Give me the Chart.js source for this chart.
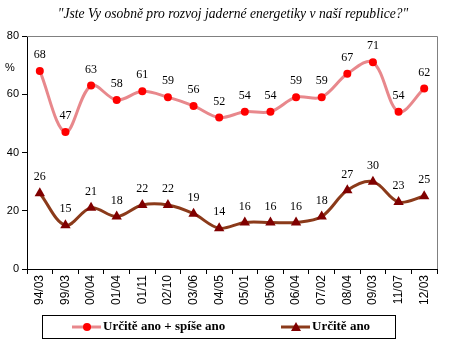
<!DOCTYPE html>
<html><head><meta charset="utf-8">
<script src="https://cdn.jsdelivr.net/npm/chart.js@4"></script>
<style>html,body{margin:0;padding:0;background:#fff}#w{width:449px;height:353px}</style>
</head><body><div id="w"><canvas id="c"></canvas></div>
<script>
const categories = ["94/03","99/03","00/04","01/04","01/11","02/10","03/06","04/05","05/01","05/06","06/04","07/02","08/04","09/03","11/07","12/03"];
const seriesNames = ["Určitě ano + spíše ano","Určitě ano"];
const totalYes = [68,47,63,58,61,59,56,52,54,54,59,59,67,71,54,62];
const definitelyYes = [26,15,21,18,22,22,19,14,16,16,16,18,27,30,23,25];
const yTicks = [0,20,40,60,80];
const title = "\"Jste Vy osobně pro rozvoj jaderné energetiky v naší republice?\"";

const extras = {
  id: 'extras',
  afterDraw(chart) {
    const ctx = chart.ctx, a = chart.chartArea;
    ctx.save();
    ctx.strokeStyle = '#808080'; ctx.lineWidth = 1;
    ctx.beginPath();
    ctx.moveTo(a.left, a.top + 0.5); ctx.lineTo(a.right + 0.5, a.top + 0.5); ctx.lineTo(a.right + 0.5, a.bottom);
    ctx.stroke();
    ctx.fillStyle = '#000';
    ctx.font = 'italic 13.6px "Liberation Serif"';
    ctx.textAlign = 'center'; ctx.textBaseline = 'middle';
    ctx.fillText(title, 233, 14);
    ctx.font = '11px "Liberation Sans"';
    ctx.fillText('%', 10, 68);
    ctx.font = '12px "Liberation Serif"';
    chart.data.datasets.forEach((ds, i) => {
      const meta = chart.getDatasetMeta(i);
      meta.data.forEach((p, j) => {
        ctx.fillText(String(ds.data[j]), p.x, p.y - 16);
      });
    });
    // legend
    const lx = 42, ly = 315, lw = 353, lh = 23;
    ctx.strokeStyle = '#000'; ctx.lineWidth = 1;
    ctx.strokeRect(lx + 0.5, ly + 0.5, lw, lh);
    const items = [{x: 72, ds: chart.data.datasets[0]}, {x: 281, ds: chart.data.datasets[1]}];
    const cy = ly + lh / 2 + 0.5;
    items.forEach(it => {
      ctx.strokeStyle = it.ds.borderColor; ctx.lineWidth = 3;
      ctx.beginPath(); ctx.moveTo(it.x, cy); ctx.lineTo(it.x + 29, cy); ctx.stroke();
      ctx.fillStyle = it.ds.pointBackgroundColor;
      const mx = it.x + 15;
      if (it.ds.pointStyle === 'triangle') {
        ctx.beginPath(); ctx.moveTo(mx, cy - 5); ctx.lineTo(mx + 5, cy + 4); ctx.lineTo(mx - 5, cy + 4); ctx.closePath(); ctx.fill();
      } else {
        ctx.beginPath(); ctx.arc(mx, cy, 4, 0, Math.PI * 2); ctx.fill();
      }
      ctx.fillStyle = '#000';
      ctx.font = 'bold 13px "Liberation Serif"';
      ctx.textAlign = 'left';
      ctx.fillText(it.ds.label, it.x + 31, cy);
    });
    ctx.restore();
  }
};

new Chart(document.getElementById('c'), {
  type: 'line',
  data: {
    labels: categories,
    datasets: [
      {label: seriesNames[0], data: totalYes, borderColor: '#E8888C', borderWidth: 3, tension: 0.35,
       pointStyle: 'circle', pointRadius: 4, pointBackgroundColor: '#FF0000', pointBorderColor: '#FF0000', pointBorderWidth: 0},
      {label: seriesNames[1], data: definitelyYes, borderColor: '#8B3A1A', borderWidth: 3, tension: 0.35,
       pointStyle: 'triangle', pointRadius: 6, pointBackgroundColor: '#800000', pointBorderColor: '#800000', pointBorderWidth: 0}
    ]
  },
  options: {
    responsive: true, maintainAspectRatio: false, animation: false,
    layout: {padding: {left: 0, right: 12, top: 36, bottom: 0}},
    plugins: {legend: {display: false}, tooltip: {enabled: false}},
    scales: {
      x: {
        offset: true,
        afterFit(s) { s.height = 84; },
        grid: {display: true, drawOnChartArea: false, tickLength: 5, color: '#000', offset: true},
        border: {color: '#000'},
        ticks: {minRotation: 90, maxRotation: 90, autoSkip: false, color: '#000', font: {family: 'Liberation Sans', size: 12}, padding: 1}
      },
      y: {
        min: 0, max: 80,
        afterBuildTicks(s) { s.ticks = yTicks.map(v => ({value: v})); },
        afterFit(s) { s.width = 27; },
        grid: {display: true, drawOnChartArea: false, tickLength: 5, color: '#000'},
        border: {color: '#000'},
        ticks: {color: '#000', font: {family: 'Liberation Sans', size: 11}, padding: 3}
      }
    }
  },
  plugins: [extras]
});
</script></body></html>
